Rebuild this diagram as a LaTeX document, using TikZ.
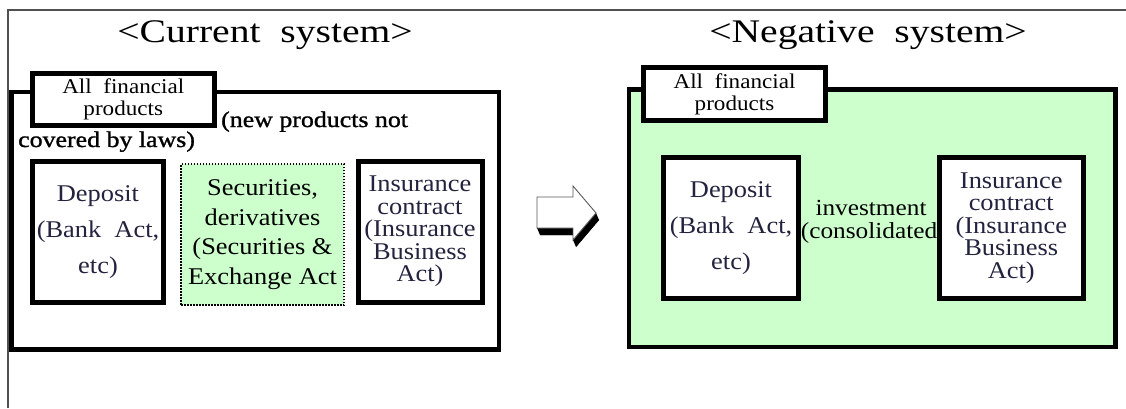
\documentclass[tikz,border=0pt]{standalone}
\usepackage{fontspec}
\setmainfont{Liberation Serif}[FakeStretch=1.1]
\newfontfamily\titlefont{Liberation Serif}[FakeStretch=1.2]
\newfontfamily\notefont{Liberation Serif}[FakeStretch=1.15,FakeBold=1.2]
\definecolor{paleGreen}{HTML}{CCFFCC}
\definecolor{inkNavy}{HTML}{23233F}
\definecolor{rule}{HTML}{505050}
\tikzset{
  frame/.style={draw=black, line width=4.5pt, inner sep=0pt, outer sep=0pt},
  tagbox/.style={draw=black, line width=5pt, fill=white, inner sep=0pt, outer sep=0pt,
    align=center, font=\fontsize{21}{22}\selectfont},
  lawbox/.style={draw=black, line width=5pt, fill=white, inner sep=0pt, outer sep=0pt,
    align=center, text=inkNavy},
  openbox/.style={draw=black, line width=2pt, dash pattern=on 1.5pt off 1.5pt,
    fill=paleGreen, inner sep=0pt, outer sep=0pt, align=center},
  heading/.style={anchor=base, font=\titlefont\fontsize{33}{36}\selectfont},
  note/.style={anchor=base west, inner sep=0pt, font=\notefont\fontsize{22.5}{24}\selectfont},
  shade/.style={xshift=3pt, yshift=-7pt},
}
\begin{document}
\begin{tikzpicture}[x=1pt, y=-1pt]
\useasboundingbox (0,0) rectangle (1126,408);

% page rules
\coordinate (pgTL) at (8,10);
\coordinate (pgTR) at (1126,10);
\coordinate (pgBL) at (8,408);
\draw[rule, line width=1.6pt] (pgBL) -- (pgTL) -- (pgTR);

% headings
\node[heading] (hCur) at (265,42) {<Current\ \ system>};
\node[heading] (hNeg) at (868,42) {<Negative\ \ system>};

% ---------- current system ----------
\node[frame, minimum width=487.5pt, minimum height=257.5pt] (curFrame) at (255.25,220.75) {};
\node[tagbox, minimum width=182.5pt, minimum height=52pt] (curTag) at (123.25,99.5)
  {All\ \ financial\\products};
\node[note] (noteA) at (221,127) {(new products not};
\node[note] (noteB) at (18,147) {covered by laws)};

\node[lawbox, minimum width=131pt, minimum height=141pt,
      font=\fontsize{24}{36}\selectfont] (curDep) at (98,232)
  {Deposit\\(Bank\ \ Act,\\etc)};
\node[openbox, minimum width=163pt, minimum height=141pt,
      font=\fontsize{24}{29.5}\selectfont] (curSec) at (262.5,234.5)
  {Securities,\\derivatives\\(Securities \&\\Exchange Act};
\node[lawbox, minimum width=124pt, minimum height=141pt,
      font=\fontsize{24}{22.5}\selectfont] (curIns) at (420,231.5)
  {Insurance\\contract\\(Insurance\\Business\\Act)};

% ---------- block arrow with a drop shadow ----------
\coordinate (arA) at (537,197);
\coordinate (arB) at (573,197);
\coordinate (arC) at (573,186);
\coordinate (arD) at (596,213);
\coordinate (arE) at (573,240);
\coordinate (arF) at (573,228);
\coordinate (arG) at (537,228);
\fill[black] ([shade]arA) -- ([shade]arB) -- ([shade]arC) -- ([shade]arD)
  -- ([shade]arE) -- ([shade]arF) -- ([shade]arG) -- cycle;
\fill[black] (arG) -- ([shade]arG) -- ([shade]arF) -- (arF) -- cycle;
\fill[black] (arD) -- ([shade]arD) -- ([shade]arE) -- (arE) -- cycle;
\filldraw[fill=white, draw=black!65, line width=0.9pt]
  (arA) -- (arB) -- (arC) -- (arD) -- (arE) -- (arF) -- (arG) -- cycle;

% ---------- negative system ----------
\node[frame, fill=paleGreen, minimum width=486.5pt, minimum height=257.5pt] (negFrame) at (872.25,218.25) {};
\node[tagbox, minimum width=182pt, minimum height=53pt] (negTag) at (734.5,94)
  {All\ \ financial\\products};

\node[lawbox, minimum width=135pt, minimum height=141pt,
      font=\fontsize{24}{36}\selectfont] (negDep) at (731,228)
  {Deposit\\(Bank\ \ Act,\\etc)};
\node[lawbox, minimum width=143.5pt, minimum height=141pt,
      font=\fontsize{24}{22.5}\selectfont] (negIns) at (1011.25,228)
  {Insurance\\contract\\(Insurance\\Business\\Act)};

\node[anchor=base, inner sep=0pt, font=\fontsize{23}{24}\selectfont] (invA) at (871,215) {investment};
\node[anchor=base, inner sep=0pt, font=\fontsize{23}{24}\selectfont] (invB) at (869,238) {(consolidated};
\end{tikzpicture}
\end{document}
